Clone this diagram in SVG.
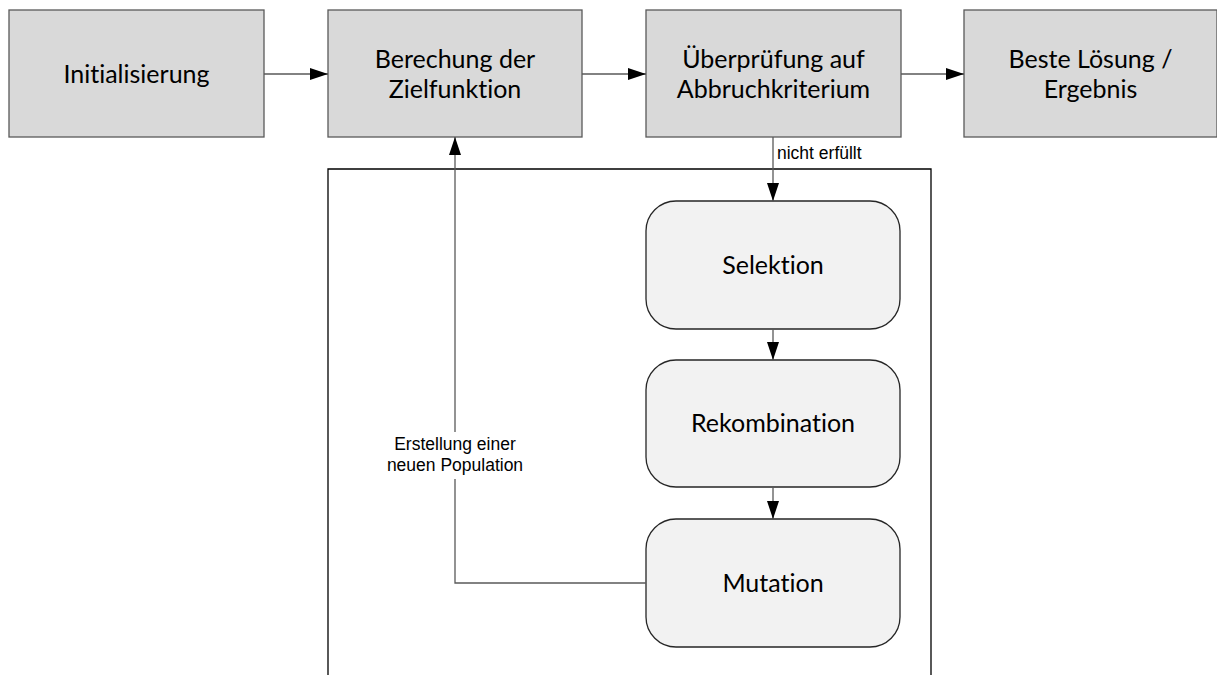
<svg xmlns="http://www.w3.org/2000/svg" width="1217" height="675" viewBox="0 0 1217 675">
<style>
.box{fill:#d9d9d9;stroke:#595959;stroke-width:1.3}
.rbox{fill:#f2f2f2;stroke:#262626;stroke-width:1.3}
.t{font-family:Lato,"Open Sans",sans-serif;font-size:25px;fill:#000;text-anchor:middle;font-variant-ligatures:none;font-feature-settings:"liga" 0}
.s{font-family:"Liberation Sans",Arial,sans-serif;font-size:17.5px;fill:#000}
.c{fill:none;stroke:#595959;stroke-width:1.3}
.frame{fill:none;stroke:#000;stroke-width:1.3}
</style>
<defs>
<marker id="ah" markerWidth="18" markerHeight="12" refX="18" refY="6" orient="auto" markerUnits="userSpaceOnUse">
<path d="M0,0 L18,6 L0,12 Z" fill="#000"/>
</marker>
</defs>
<rect width="1217" height="675" fill="#fff"/>
<path class="frame" d="M328,675 L328,169 L931,169 L931,675"/>
<g id="n1"><rect class="box" x="9" y="10" width="255" height="127"/><text class="t" x="136.5" y="83">Initialisierung</text></g>
<g id="n2"><rect class="box" x="328" y="10" width="254" height="127"/><text class="t" x="455" y="68">Berechung der</text><text class="t" x="455" y="98">Zielfunktion</text></g>
<g id="n3"><rect class="box" x="646" y="10" width="255" height="127"/><text class="t" x="773.5" y="68">Überprüfung auf</text><text class="t" x="773.5" y="98">Abbruchkriterium</text></g>
<g id="n4"><rect class="box" x="964" y="10" width="253" height="127"/><text class="t" x="1090.5" y="68">Beste Lösung /</text><text class="t" x="1090.5" y="98">Ergebnis</text></g>
<g id="n5"><rect class="rbox" x="646" y="201" width="254" height="128" rx="30"/><text class="t" x="773" y="274">Selektion</text></g>
<g id="n6"><rect class="rbox" x="646" y="360" width="254" height="127" rx="30"/><text class="t" x="773" y="432">Rekombination</text></g>
<g id="n7"><rect class="rbox" x="646" y="519" width="254" height="128" rx="30"/><text class="t" x="773" y="592">Mutation</text></g>
<g id="connectors">
<line class="c" x1="264" y1="74" x2="328" y2="74" marker-end="url(#ah)"/>
<line class="c" x1="582" y1="74" x2="646" y2="74" marker-end="url(#ah)"/>
<line class="c" x1="901" y1="74" x2="964" y2="74" marker-end="url(#ah)"/>
<line class="c" x1="773" y1="137" x2="773" y2="201" marker-end="url(#ah)"/>
<line class="c" x1="773" y1="329" x2="773" y2="360" marker-end="url(#ah)"/>
<line class="c" x1="773" y1="487" x2="773" y2="519" marker-end="url(#ah)"/>
<path class="c" d="M646,583 L455,583 L455,479"/>
<line class="c" x1="455" y1="432" x2="455" y2="137" marker-end="url(#ah)"/>
<text class="s" x="777" y="159">nicht erfüllt</text>
<text class="s" x="455" y="450" text-anchor="middle">Erstellung einer</text>
<text class="s" x="455" y="471" text-anchor="middle">neuen Population</text>
</g>
</svg>
